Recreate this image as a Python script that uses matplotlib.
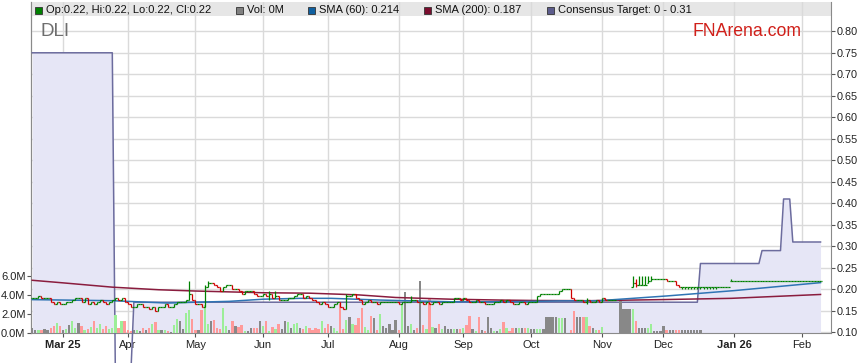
import matplotlib
matplotlib.use("Agg")
import matplotlib.pyplot as plt
from matplotlib.patches import Rectangle
import numpy as np
import pandas as pd

plt.rcParams['font.family'] = ['Liberation Sans', 'DejaVu Sans']

# weekdays shown on the axis start here
first_day = '2025-02-17'

# daily close, thousandths of a dollar (None = no trade)
close_k = [
    180, 180, 185, 180, 180, 180, 170, 165, 170, 165, 165, 170, 170, 175, 180, 180,
    170, 180, 165, 170, 165, 170, 175, 170, 165, 170, 175, 180, 175, 180, 170, 165,
    160, 160, 165, 165, 160, 160, 155, 160, 150, 160, 160, 165,
    160, 160, 165, 170, 170, 170, 175, 190, 175, 165, 165, 160, 205, 215, 215, 210,
    205, 195, 205, 210, 210, 200, 200, 195, 190, 195, 195, 195, 190, 185, 185, 190,
    185, 190, 180, 185, 175, 175, 175, 180, 180, 185, 190, 190, 180, 185,
    180, 175, 170, 165, 170, 165, 160, 160, 165, 170, 160, 155, 185, 185, 190, 180,
    175, 165, 170, 175, 170, 170, 165, 170, 170, 170, 170, 170, 170, 165, 170, 170,
    170, 175, 175, 170, 170, 165, 170, 165, 170, 170, 165, 170, 170, 170,
    170, 180, 180, 175, 180, 175, 170, 170, 175, 170, 170, 165, 165, 165, 170, 170,
    175, 170, 175, 170, 165, 165, 170, 170, 165, 170, 170, 170, 185, 190, 190, 190,
    190, 190, 190, 195, 200, 200, 200, 180, 175, 175, 175, 170, 175,
    170, 170, 175, 170, 180, 175, 175, 175, 175, None, None, None, None, None,
    215, 210, 210, 210, 210, 220, 225, 225, 225, 225, 225, 220, 220, 220, 210, 205,
    205, 205, 205, 205, 205, 205, 205, 205, 205, 205, 205, 205, 205, 205, 205, 205,
    220, 220, 220, 220, 220, 220, 220, 220, 220, 220, 220, 220, 220, 220, 220, 220,
    220, 220, 220, 220, 220, 220, 220, 220, 220, 220, 220, 220, 220, 220,
]

# days whose bar reaches past open/close: day -> (low, high), thousandths
bar_range_k = {
    51: (175, 220), 56: (160, 210), 57: (205, 220), 77: (175, 195), 79: (180, 195),
    102: (155, 190), 123: (170, 185), 180: (165, 180),
    195: (205, 230), 196: (205, 225), 197: (210, 230), 198: (210, 230), 199: (210, 230),
    200: (215, 230), 201: (220, 230),
    211: (200, 205), 212: (200, 205), 213: (200, 205), 214: (200, 205), 215: (200, 205),
    216: (200, 205), 217: (200, 205), 218: (200, 205), 219: (200, 205), 220: (200, 205),
    221: (200, 205), 222: (200, 205), 227: (220, 225),
}

# daily volume, millions
volume_m = [
    0.5, 0.3, 0.3, 0.3, 0.4, 0.3, 0.5, 0.7, 1.0, 0.7,
    0.3, 0.4, 0.8, 1.3, 0.5, 1.0, 0.7, 0.3, 0.4, 0.6,
    1.3, 0.5, 0.9, 0.35, 0.7, 0.4, 0.5, 1.9, 0.5, 1.3,
    1.25, 0.3, 0.2, 0.3, 0.3, 0.2, 0.5, 0.3, 0.5, 0.9,
    1.1, 0.3, 0.25, 0.25, 0.2, 0.1, 0.8, 1.5, 1.25, 0.45,
    2.15, 2.45, 1.5, 0.3, 0.3, 2.4, 3.0, 0.9, 1.25, 1.4,
    0.5, 0.45, 2.6, 0.7, 0.3, 1.25, 0.7, 0.65, 0.8, 0.2,
    0.2, 0.5, 0.5, 0.5, 1.25, 0.75, 1.25, 0.2, 0.6, 0.4,
    0.9, 0.4, 1.25, 1.1, 0.5, 0.9, 1.0,
    0.54, 0.45, 0.7, 0.5, 0.3, 0.5, 0.45, 1.25, 0.5, 0.9,
    0.7, 0.5, 0.2, 3.05, 0.45, 1.33, 1.7, 0.9, 0.8, 1.54,
    2.6, 0.6, 0.3, 1.8, 1.54, 0.25, 1.97, 0.7, 0.5, 0.9,
    0.25, 1.33, 0.25, 3.05, 4.37, 0.7, 0.9, 0.25, 0.5, 5.56,
    0.8, 0.4, 3.6, 0.6, 0.5, 0.9, 0.4, 0.7, 0.35, 0.35,
    0.35, 0.35, 0.35, 0.5, 0.8, 1.8, 0.35, 0.2, 1.7, 0.3,
    0.2, 1.7, 0.5, 0.2, 0.2, 0.35, 1.15, 0.5, 0.2, 0.5,
    0.5, 0.5, 0.5, 0.5, 0.5, 0.35, 0.35, 0.35, 0.35, 0.35,
    1.7, 1.7, 1.7, 1.7, 1.55, 1.55, 1.55, 0.0, 0.3, 2.33,
    1.7, 1.7, 1.7, 1.7,
    0.7, 0.5, 0.3, 0.3, 0.6, 0.0, 0.0, 0.0, 0.0, 0.0,
    3.5, 2.5, 2.5, 2.5, 2.5, 1.25, 0.5, 0.55, 0.55, 0.55,
    0.9, 0.2, 0.2, 0.2, 0.7, 0.3, 0.25, 0.25, 0.25, 0.25,
    0.25, 0.25, 0.25, 0.25, 0.25, 0.25, 0.25,
]

# consensus target as runs: level held for n days
target_level = [0.75, 0.0, 0.17, 0.26, 0.29, 0.41, 0.31]
target_days = [27, 6, 184, 20, 7, 3, 10]

sma60_day = [0, 26, 44, 53, 64, 75, 87, 97, 113, 136, 155, 171, 184, 206, 228, 256]
sma60 = [0.176, 0.1735, 0.168, 0.170, 0.172, 0.177, 0.179, 0.179, 0.175, 0.171,
         0.171, 0.173, 0.1735, 0.1845, 0.197, 0.2155]
sma200_day = [0, 10, 26, 41, 53, 75, 90, 106, 118, 136, 152, 163, 181, 204, 227, 256]
sma200 = [0.221, 0.215, 0.205, 0.199, 0.196, 0.192, 0.191, 0.187, 0.181, 0.177,
          0.175, 0.174, 0.1735, 0.176, 0.179, 0.188]

month_starts = ['2025-03-03', '2025-04-01', '2025-05-01', '2025-06-02', '2025-07-01',
                '2025-08-01', '2025-09-01', '2025-10-01', '2025-11-03', '2025-12-01',
                '2026-01-01', '2026-02-02']
month_labels = ['Mar 25', 'Apr', 'May', 'Jun', 'Jul', 'Aug', 'Sep', 'Oct', 'Nov',
                'Dec', 'Jan 26', 'Feb']
year_labels = ['Mar 25', 'Jan 26']

vol_ticks = [0, 2, 4, 6]

# ---------------------------------------------------------------
W, H = 859, 363
fig = plt.figure(figsize=(W / 100, H / 100), dpi=100)
ax = fig.add_axes([31 / W, 30 / H, 800 / W, 331 / H])

n = len(close_k)
days = np.arange(n)
dates = pd.bdate_range(first_day, periods=n + 10)
tick_pos = [dates.get_loc(pd.Timestamp(d)) for d in month_starts]

close = np.array([np.nan if c is None else c / 1000 for c in close_k])
prev = pd.Series(close).ffill().shift(1).to_numpy()
opn = np.where(np.isnan(prev), close, prev)
lo = np.fmin(opn, close)
hi = np.fmax(opn, close)
for d, (l, h) in bar_range_k.items():
    lo[d], hi[d] = l / 1000, h / 1000
    opn[d] = min(max(opn[d], lo[d]), hi[d])

ymin, ymax = 0.0984, 0.8681
ax.set_xlim(-0.4, 259.4)
ax.set_ylim(ymin, ymax)

grid_c = '#dadada'
price_ticks = np.round(np.arange(0.10, 0.801, 0.05), 2)
for p in price_ticks:
    ax.axhline(p, color=grid_c, lw=1.0, zorder=1)
for t in tick_pos:
    ax.axvline(t, color=grid_c, lw=1.0, zorder=1)

# legend band
ax.add_patch(Rectangle((0, 1 - 14 / 331), 1, 14 / 331, transform=ax.transAxes,
                       facecolor='#e6e6e6', edgecolor='none', zorder=0.5))

# consensus target
target = np.repeat(target_level, target_days)
tdays = np.arange(len(target))
ax.fill_between(tdays, target, ymin, color='#e6e6f6', lw=0, zorder=2)
ax.plot(tdays, target, color='#6c6c9e', lw=1.1, zorder=3, clip_on=False)

# volume on the same axes, own scale on the left
vol0, per_m = 0.099, 0.0218
vol = np.array(volume_m)
vdays = np.arange(len(vol))
vcol = []
for i in vdays:
    if np.isnan(close[i]) or np.isnan(prev[i]) or close[i] == prev[i]:
        vcol.append('#888888')
    elif close[i] > prev[i]:
        vcol.append('#9cee98')
    else:
        vcol.append('#ff9a9a')
ax.bar(vdays, vol * per_m, bottom=vol0, width=0.74, color=vcol, lw=0, zorder=4)

ax.plot(sma200_day, sma200, color='#8a1c3e', lw=1.1, zorder=5)
ax.plot(sma60_day, sma60, color='#2f74b4', lw=1.1, zorder=5)

# HLC bars
ok = ~np.isnan(close)
pcol = np.where(close < np.where(np.isnan(prev), close, prev), '#d00000', '#008000')
ax.vlines(days[ok], lo[ok], hi[ok], colors=pcol[ok], lw=0.9, zorder=6)
ax.hlines(opn[ok], days[ok] - 0.5, days[ok], colors=pcol[ok], lw=0.9, zorder=6)
ax.hlines(close[ok], days[ok], days[ok] + 0.5, colors=pcol[ok], lw=0.9, zorder=6)

# axes styling
ax.yaxis.tick_right()
ax.set_yticks(price_ticks)
ax.set_yticklabels([f'{p:.2f}' for p in price_ticks])
ax.set_xticks(tick_pos)
ax.set_xticklabels(month_labels)
for lab in ax.get_xticklabels():
    if lab.get_text() in year_labels:
        lab.set_fontweight('bold')
ax.tick_params(axis='x', labelsize=8, colors='#555555', labelcolor='#222222',
               length=3, width=0.8, pad=2)
ax.tick_params(axis='y', labelsize=7.8, colors='#555555', labelcolor='#222222',
               length=3, width=0.8, pad=1)
for s in ['left', 'right', 'bottom']:
    ax.spines[s].set_color('#8a8a8a')
ax.spines['top'].set_visible(False)

vax = ax.secondary_yaxis('left', functions=(lambda p: (p - vol0) / per_m,
                                            lambda v: v * per_m + vol0))
vax.set_yticks(vol_ticks)
vax.set_yticklabels([f'{v:.1f}M' for v in vol_ticks])
vax.tick_params(labelsize=8, colors='#555555', labelcolor='#222222', length=3,
                width=0.8, pad=1)
vax.spines['left'].set_color('#8a8a8a')

# header texts
def fx(px):
    return px / W


def fy(py):
    return 1 - py / H


legend_items = [
    (35, 'Op:0.22, Hi:0.22, Lo:0.22, Cl:0.22', '#008000'),
    (236, 'Vol: 0M', '#808080'),
    (308, 'SMA (60): 0.214', '#1060a0'),
    (424, 'SMA (200): 0.187', '#7a0d2e'),
    (547, 'Consensus Target: 0 - 0.31', '#5c5c8c'),
]
for x0, txt, c in legend_items:
    fig.patches.append(Rectangle((fx(x0), fy(14)), 7 / W, 7 / H, transform=fig.transFigure,
                                 facecolor=c, edgecolor='#333333', lw=0.6, zorder=10))
    fig.text(fx(x0 + 11), fy(10), txt, fontsize=8, color='#111111', va='center', ha='left')

fig.text(fx(41), fy(32), 'DLI', fontsize=13.5, color='#6e6e6e', va='center', ha='left')
fig.text(fx(692), fy(32), 'FNArena.com', fontsize=12.7, color='#d0201a',
         va='center', ha='left')

fig.savefig('out.png', dpi=100)
